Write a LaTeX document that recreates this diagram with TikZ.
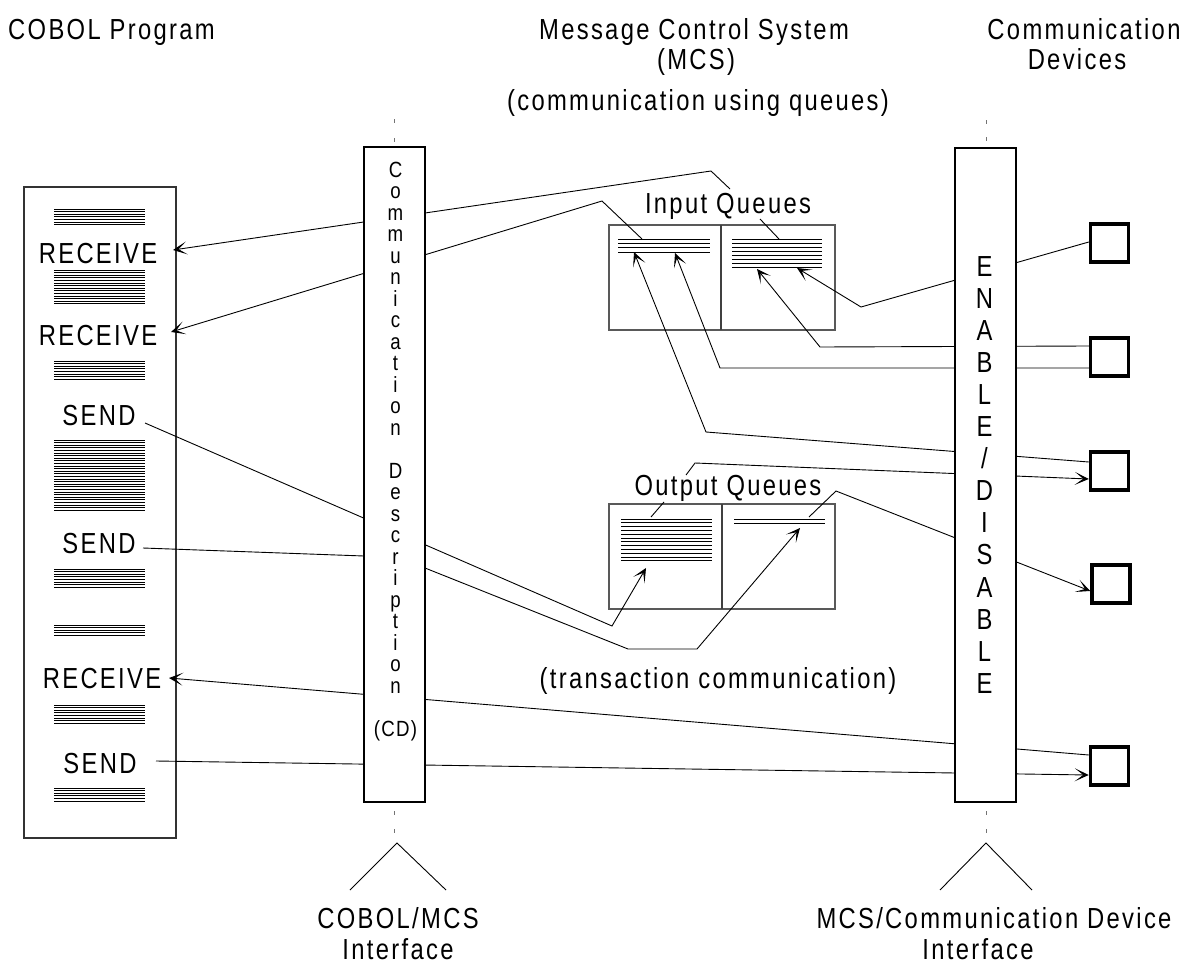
\documentclass[tikz,border=0pt]{standalone}
\usepackage{fontspec}
\setmainfont{Liberation Sans}
\newfontfamily\lblfont[FakeStretch=0.82,LetterSpace=8]{Liberation Sans}
\newfontfamily\cdfont[FakeStretch=0.85,LetterSpace=6]{Liberation Sans}
\newfontfamily\enfont[FakeStretch=0.82]{Liberation Sans}
\usetikzlibrary{arrows.meta}
\newcommand{\lstack}[5]{%
  \foreach \k in {1,...,#4}{\draw[stackline] (#1,{#3+(\k-1)*#5}) -- (#2,{#3+(\k-1)*#5});}}
\begin{document}
\begin{tikzpicture}[x=1pt,y=-1pt,
  lbl/.style={font=\lblfont\fontsize{29}{30}\selectfont, inner sep=0, anchor=base},
  cdletter/.style={font=\cdfont\fontsize{22}{24}\selectfont, inner sep=0, anchor=base},
  enletter/.style={font=\enfont\fontsize{29}{30}\selectfont, inner sep=0, anchor=base},
  column/.style={draw=black, line width=1.1pt, fill=white, inner sep=0, minimum width=61pt},
  prgbox/.style={draw=black!80, line width=1.1pt, inner sep=0, minimum width=152pt, minimum height=651pt},
  qbox/.style={draw=black!65, line width=1.1pt, inner sep=0, minimum width=226pt, minimum height=105pt},
  qdiv/.style={draw=black!75, line width=1.1pt},
  device/.style={draw=black, line width=3.5pt, inner sep=0, minimum size=38pt},
  conn/.style={draw=black, line width=0.9pt},
  arr/.style={conn, -{Stealth[length=14pt,width=13pt,inset=8.5pt]}},
  stackline/.style={draw=black, line width=0.75pt},
  tick/.style={draw=black!55, line width=1pt},
  caret/.style={draw=black, line width=0.9pt}
]
\useasboundingbox (0,0) rectangle (1187,969);
\fill[white] (0,0) rectangle (1187,969);

% ---------- headings ----------
\node[lbl, anchor=base west] (hcobol) at (8,39) {COBOL Program};
\node[lbl] (hmcs1) at (694,39) {Message Control System};
\node[lbl] (hmcs2) at (696,69) {(MCS)};
\node[lbl] (hdev1) at (1084,39) {Communication};
\node[lbl] (hdev2) at (1077,69) {Devices};
\node[lbl] (hqueue) at (698,110) {(communication using queues)};
\node[lbl] (htrans) at (718,688) {(transaction communication)};

% ---------- COBOL program ----------
\node[prgbox] (prog) at (100,512.5) {};
\node[lbl] (rcv1) at (98,263) {RECEIVE};
\node[lbl] (rcv2) at (98,345) {RECEIVE};
\node[lbl] (snd1) at (99,425) {SEND};
\node[lbl] (snd2) at (99,553) {SEND};
\node[lbl] (rcv3) at (102,688) {RECEIVE};
\node[lbl] (snd3) at (100,773) {SEND};
\lstack{54}{145}{209}{7}{2.6}
\lstack{54}{145}{270}{14}{2.6}
\lstack{54}{145}{361}{8}{2.6}
\lstack{54}{145}{440}{28}{2.6}
\lstack{54}{145}{569}{8}{2.6}
\lstack{54}{145}{625}{5}{2.6}
\lstack{54}{145}{705}{8}{2.6}
\lstack{54}{145}{788}{6}{2.6}

% ---------- queues ----------
\node[qbox] (iq) at (722,277.5) {};
\draw[qdiv] (721,225) -- (721,330);
\node[lbl] (iql) at (728,213) {Input Queues};
\lstack{618}{710}{239}{4}{4.3}
\lstack{732}{822}{239}{8}{4}

\node[qbox] (oq) at (722,556.5) {};
\draw[qdiv] (722,504) -- (722,609);
\node[lbl] (oql) at (728,495) {Output Queues};
\lstack{621}{712}{519}{12}{3.8}
\lstack{734}{825}{519}{2}{4}

% ---------- devices ----------
\node[device] (d1) at (1109.5,243) {};
\node[device] (d2) at (1109.5,357) {};
\node[device] (d3) at (1109.5,471) {};
\node[device] (d4) at (1111,584) {};
\node[device] (d5) at (1109.5,766) {};

% ---------- connector points ----------
\coordinate (p1a) at (730,189);  \coordinate (p1b) at (711,171);  \coordinate (p1c) at (173,250);
\coordinate (p2a) at (642,239);  \coordinate (p2b) at (602,201);  \coordinate (p2c) at (171,332);
\coordinate (p3a) at (145,423);  \coordinate (p3b) at (612,626);  \coordinate (p3c) at (646,568);
\coordinate (p4a) at (143,548);  \coordinate (p4b) at (364,556);  \coordinate (p4c) at (425,568);
\coordinate (p4d) at (628,649);  \coordinate (p4e) at (697,649);  \coordinate (p4f) at (800,528);
\coordinate (p5b) at (861,307);  \coordinate (p5c) at (797,268);
\coordinate (p6b) at (820,347);  \coordinate (p6c) at (757,269);
\coordinate (p7b) at (720,368);  \coordinate (p7c) at (675,253);
\coordinate (p8b) at (706,432);  \coordinate (p8c) at (634,252);
\coordinate (p9a) at (686,475);  \coordinate (p9b) at (695,463);
\coordinate (p10a) at (809,517); \coordinate (p10b) at (836,491);
\coordinate (p11c) at (169,678);
\coordinate (p12a) at (156,761);
\coordinate (l1a) at (760,219);  \coordinate (l1b) at (779,239);
\coordinate (l2a) at (664,502);  \coordinate (l2b) at (651,517);

% ---------- connectors ----------
\draw[arr] (p1a) -- (p1b) -- (p1c);
\draw[arr] (p2a) -- (p2b) -- (p2c);
\draw[arr] (p3a) -- (p3b) -- (p3c);
\draw[arr] (p4a) -- (p4b) -- (p4c) -- (p4d) -- (p4e) -- (p4f);
\draw[arr] ([yshift=1pt]d1.west) -- (p5b) -- (p5c);
\draw[arr] ([yshift=11pt]d2.west) -- (p6b) -- (p6c);
\draw[arr] ([yshift=-11pt]d2.west) -- (p7b) -- (p7c);
\draw[arr] ([yshift=9pt]d3.west) -- (p8b) -- (p8c);
\draw[arr] (p9a) -- (p9b) -- ([yshift=-8pt]d3.west);
\draw[arr] (p10a) -- (p10b) -- ([yshift=-7pt]d4.west);
\draw[arr] ([yshift=11pt]d5.west) -- (p11c);
\draw[arr] (p12a) -- ([yshift=-9pt]d5.west);
\draw[conn] (l1a) -- (l1b);
\draw[conn] (l2a) -- (l2b);

% ---------- interface columns ----------
\node[column, minimum height=655pt] (cd) at (394.5,474.5) {};
\node[column, minimum height=654pt] (en) at (985.5,475) {};
\foreach \ch [count=\i] in {C,o,m,m,u,n,i,c,a,t,i,o,n,{},D,e,s,c,r,i,p,t,i,o,n,{},{(CD)}}
  \node[cdletter] (cdt\i) at (395.5,{177+(\i-1)*21.5}) {\ch};
\foreach \ch [count=\i] in {E,N,A,B,L,E,/,D,I,S,A,B,L,E}
  \node[enletter] (ent\i) at (984.5,{276+(\i-1)*32.1}) {\ch};

% dotted continuation marks
\draw[tick] (394.5,119) -- (394.5,123);  \draw[tick] (394.5,138) -- (394.5,142);
\draw[tick] (394.5,811) -- (394.5,815);  \draw[tick] (394.5,829) -- (394.5,833);
\draw[tick] (986,120) -- (986,124);      \draw[tick] (986,137) -- (986,141);
\draw[tick] (986,811) -- (986,815);      \draw[tick] (986,829) -- (986,833);

% ---------- interface carets and labels ----------
\coordinate (k1l) at (350,890); \coordinate (k1t) at (397,843); \coordinate (k1r) at (446,890);
\coordinate (k2l) at (940,890); \coordinate (k2t) at (986,843); \coordinate (k2r) at (1032,890);
\draw[caret] (k1l) -- (k1t) -- (k1r);
\draw[caret] (k2l) -- (k2t) -- (k2r);
\node[lbl] (if1a) at (398,928) {COBOL/MCS};
\node[lbl] (if1b) at (398,959) {Interface};
\node[lbl] (if2a) at (994,928) {MCS/Communication Device};
\node[lbl] (if2b) at (978,959) {Interface};
\end{tikzpicture}
\end{document}
